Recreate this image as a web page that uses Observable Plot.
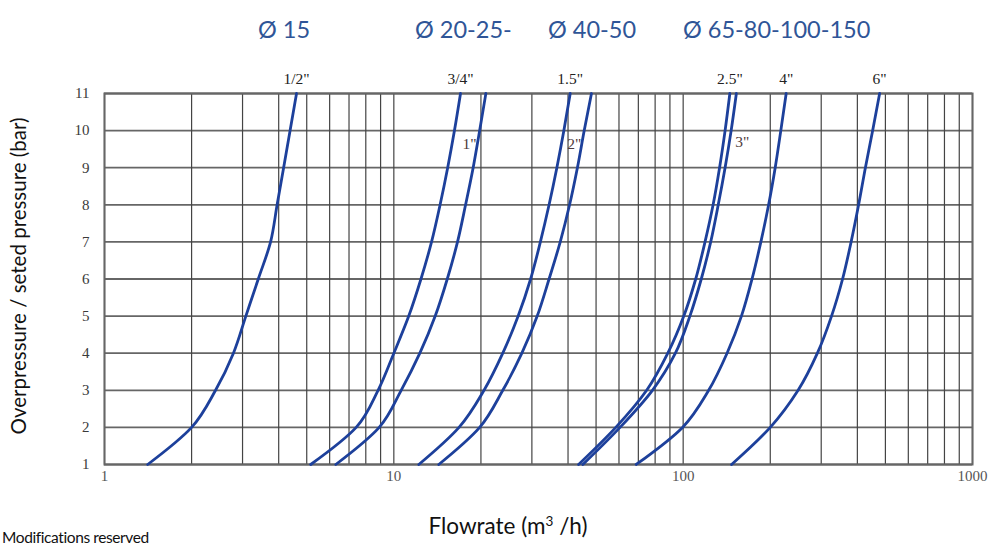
<!DOCTYPE html>
<html>
<head>
<meta charset="utf-8">
<script src="https://cdn.jsdelivr.net/npm/d3@7"></script>
<script src="https://cdn.jsdelivr.net/npm/@observablehq/plot@0.6"></script>
<style>
  html, body { margin: 0; padding: 0; background: #fff; }
  #wrap { position: relative; width: 992px; height: 547px; overflow: hidden; }
  #wrap svg { position: absolute; left: 0; top: 0; }
  .t { position: absolute; white-space: nowrap; line-height: 1; font-family: Lato, "Open Sans", sans-serif; }
  .blue { color: #2f5597; font-size: 23.5px; top: 18px; }
</style>
</head>
<body>
<div id="wrap"></div>
<script>
// Pressure levels (bar) at which each curve was read
const pressures = [1, 2, 3, 4, 5, 6, 7, 8, 9, 10, 11];

// Flowrate (m3/h) for each valve size at the pressures above
const flow_1_2  = [1.41, 2.0, 2.42, 2.79, 3.08, 3.40, 3.75, 3.95, 4.16, 4.38, 4.61];
const flow_3_4  = [5.16, 7.41, 8.82, 10.0, 11.26, 12.41, 13.5, 14.45, 15.35, 16.2, 17.0];
const flow_1    = [6.30, 8.9, 10.6, 12.3, 13.9, 15.3, 16.6, 17.7, 18.8, 19.8, 20.8];
const flow_1_5  = [12.2, 16.8, 20.5, 23.8, 26.9, 29.7, 32.1, 34.4, 36.6, 38.7, 40.7];
const flow_2    = [14.3, 19.8, 23.8, 27.7, 31.3, 34.4, 37.6, 40.5, 43.1, 45.5, 48.2];
const flow_2_5  = [43.5, 58.5, 74.8, 88.5, 100.5, 110.5, 119.0, 126.9, 133.6, 139.6, 145];
const flow_3    = [45.0, 60.5, 78.3, 94.0, 105.5, 115.5, 124.5, 132.2, 139.6, 146.5, 152.7];
const flow_4    = [68.8, 99.5, 122.5, 141.8, 159, 173, 185.6, 197.4, 208, 217.5, 227];
const flow_6    = [147, 200, 249.6, 291, 325.7, 355.6, 380.6, 404, 426.4, 451.8, 477.6];

const sizes = ['1/2"', '3/4"', '1"', '1.5"', '2"', '2.5"', '3"', '4"', '6"'];
const flows = [flow_1_2, flow_3_4, flow_1, flow_1_5, flow_2, flow_2_5, flow_3, flow_4, flow_6];

// Curves labelled above the frame, and those labelled inside it
const topLabelSizes = ['1/2"', '3/4"', '1.5"', '2.5"', '4"', '6"'];
const innerLabelLeft = ['1"', '2"'];
const innerLabelRight = ['3"'];

// Axis ticks and grid
const xTickLabels = [1, 10, 100, 1000];
const xGrid = [1,2,3,4,5,6,7,8,9,10,20,30,40,50,60,70,80,90,100,200,300,400,500,600,700,800,900,1000];
const yTicks = [1, 2, 3, 4, 5, 6, 7, 8, 9, 10, 11];

// Header texts
const groupLabels = ['Ø 15', 'Ø 20-25-', 'Ø 40-50', 'Ø 65-80-100-150'];

const rows = [];
sizes.forEach((s, k) => pressures.forEach((p, i) => rows.push({size: s, p, q: flows[k][i]})));
const at = (s, p) => rows.find(r => r.size === s && r.p === p);

const topRows = topLabelSizes.map(s => at(s, 11));
const leftRows = innerLabelLeft.map(s => at(s, 10));
const rightRows = innerLabelRight.map(s => at(s, 10));

const serif = '"Liberation Serif", "DejaVu Serif", serif';
const lbl = {fontFamily: serif, fontSize: 15.5};

const chart = Plot.plot({
  width: 992,
  height: 547,
  marginLeft: 104,
  marginRight: 20,
  marginTop: 93,
  marginBottom: 83,
  style: {fontFamily: serif, fontSize: '15px', background: 'transparent'},
  x: {type: 'log', domain: [1, 1000]},
  y: {domain: [1, 11]},
  marks: [
    Plot.ruleY(yTicks, {y: d => d, stroke: '#666', strokeWidth: 1.8}),
    Plot.ruleX(xGrid, {x: d => d, stroke: '#444', strokeWidth: 1.2}),
    Plot.frame({stroke: '#666', strokeWidth: 2}),
    Plot.line(rows, {x: 'q', y: 'p', z: 'size', stroke: '#1d409b', strokeWidth: 2.8, curve: 'monotone-y'}),
    Plot.axisX(xTickLabels, {tickSize: 0, tickPadding: 6, tickFormat: d => String(d), label: null,
      fontFamily: serif, fontSize: 15, fill: '#555'}),
    Plot.axisY(yTicks, {tickSize: 0, tickPadding: 15, label: null,
      fontFamily: serif, fontSize: 15, fill: '#3a3a3a'}),
    Plot.text(topRows, {x: 'q', y: 'p', text: 'size', dy: -14, ...lbl, fill: '#222'}),
    Plot.text(leftRows, {x: 'q', y: 'p', text: 'size', dx: -3, dy: 13, textAnchor: 'end', ...lbl, fill: '#4e3a3a'}),
    Plot.text(rightRows, {x: 'q', y: 'p', text: 'size', dx: 4, dy: 11, textAnchor: 'start', ...lbl, fill: '#4e3a3a'})
  ]
});

const wrap = document.getElementById('wrap');
wrap.appendChild(chart);

const groupLeft = [258, 415, 548, 683];
groupLabels.forEach((g, i) => {
  const d = document.createElement('div');
  d.className = 't blue';
  d.style.left = groupLeft[i] + 'px';
  d.textContent = g;
  wrap.appendChild(d);
});

const ytitle = document.createElement('div');
ytitle.className = 't';
ytitle.style.cssText = 'left:18px;top:276px;font-size:20.5px;color:#111;transform:translate(-50%,-50%) rotate(-90deg);';
ytitle.textContent = 'Overpressure / seted pressure (bar)';
wrap.appendChild(ytitle);

const xtitle = document.createElement('div');
xtitle.className = 't';
xtitle.style.cssText = 'left:508px;top:515px;font-size:22.5px;color:#111;transform:translateX(-50%);';
xtitle.innerHTML = 'Flowrate (m<sup style="font-size:60%;vertical-align:0.6em;line-height:0">3</sup> /h)';
wrap.appendChild(xtitle);

const note = document.createElement('div');
note.className = 't';
note.style.cssText = 'left:2px;top:530px;font-size:15.5px;letter-spacing:-0.4px;color:#111;';
note.textContent = 'Modifications reserved';
wrap.appendChild(note);
</script>
</body>
</html>
